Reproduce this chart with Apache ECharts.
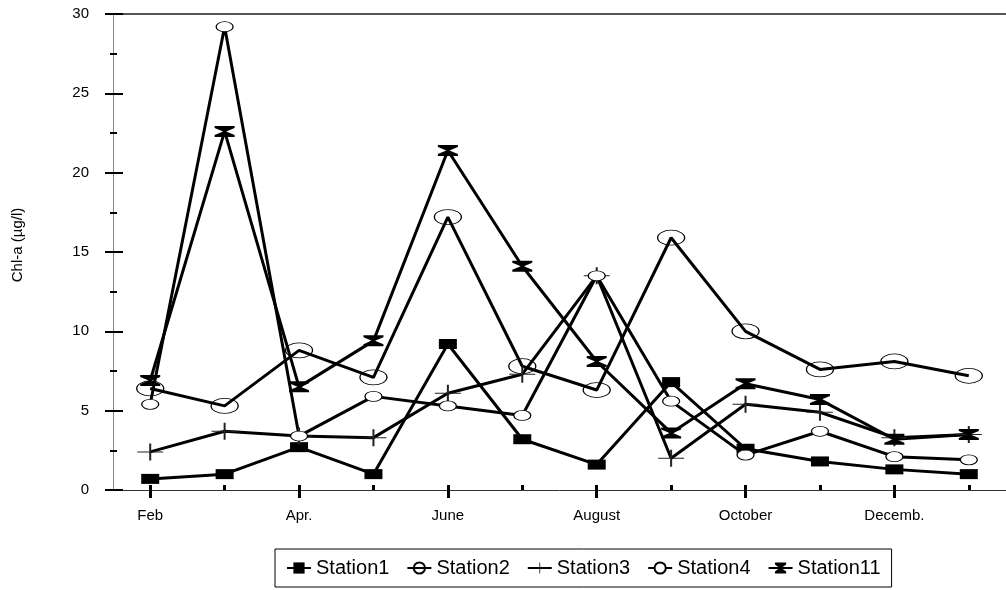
<!DOCTYPE html>
<html>
<head>
<meta charset="utf-8">
<script src="https://cdn.jsdelivr.net/npm/echarts@6/dist/echarts.min.js"></script>
<style>
  html, body { margin: 0; padding: 0; background: #fff; }
  #chart { width: 1006px; height: 590px; }
</style>
</head>
<body>
<div id="chart"></div>
<script>
// Monthly sampling, February to January; only every other month is labelled
const months = ['Feb', 'Mar', 'Apr.', 'May', 'June', 'July', 'August', 'Sep', 'October', 'Nov', 'Decemb.', 'Jan'];

// Chlorophyll-a concentrations (µg/l) per station
const station1  = [0.7, 1.0, 2.7, 1.0, 9.2, 3.2, 1.6, 6.8, 2.6, 1.8, 1.3, 1.0];
const station2  = [6.4, 5.3, 8.8, 7.1, 17.2, 7.8, 6.3, 15.9, 10.0, 7.6, 8.1, 7.2];
const station3  = [2.4, 3.7, 3.4, 3.3, 6.1, 7.3, 13.5, 2.0, 5.4, 4.9, 3.3, 3.5];
const station4  = [5.4, 29.2, 3.4, 5.9, 5.3, 4.7, 13.5, 5.6, 2.2, 3.7, 2.1, 1.9];
const station11 = [6.9, 22.6, 6.5, 9.4, 21.4, 14.1, 8.1, 3.6, 6.7, 5.7, 3.2, 3.5];

// Value axis range and step
const yMin = 0, yMax = 30, yStep = 5;

const FONT = 'Liberation Sans, Arial, sans-serif';

// Marker shapes
const plusPath = 'path://M0,8 H26 V9 H0 Z M12,0 H14 V17 H12 Z';
const hourglassPath = 'path://M0,0 H20 V2 L11.5,5.5 L20,9 V11 H0 V9 L8.5,5.5 L0,2 Z';

const chart = echarts.init(document.getElementById('chart'), null, { renderer: 'canvas' });

function lineSeries(name, data, symbol, size, fill, border) {
  return {
    name: name,
    type: 'line',
    data: data,
    xAxisIndex: 0,
    yAxisIndex: 0,
    symbol: symbol,
    symbolSize: size,
    showAllSymbol: true,
    lineStyle: { color: '#000', width: 3 },
    itemStyle: { color: fill, borderColor: '#000', borderWidth: border },
    emphasis: { disabled: true },
    z: 3
  };
}

const option = {
  animation: false,
  backgroundColor: '#fff',
  grid: { left: 113, top: 14, width: 897, height: 476 },
  legend: {
    left: 275,
    top: 549,
    orient: 'horizontal',
    borderColor: '#000',
    borderWidth: 1,
    padding: [9, 11, 9, 11],
    itemGap: 17,
    itemWidth: 24,
    itemHeight: 14,
    textStyle: { fontFamily: FONT, fontSize: 20, color: '#000' },
    selectedMode: false,
    data: ['Station1', 'Station2', 'Station3', 'Station4', 'Station11']
  },
  xAxis: [
    {
      type: 'category',
      data: months,
      position: 'bottom',
      boundaryGap: true,
      axisLine: { show: true, lineStyle: { color: '#333', width: 1 } },
      axisTick: { show: true, alignWithLabel: true, length: 8, lineStyle: { color: '#000', width: 3 } },
      axisLabel: { interval: 1, margin: 18, fontFamily: FONT, fontSize: 15, color: '#000' },
      splitLine: { show: false }
    },
    {
      type: 'category',
      data: months,
      position: 'bottom',
      boundaryGap: true,
      axisLine: { show: false },
      axisTick: { show: true, inside: true, alignWithLabel: true, length: 5, lineStyle: { color: '#000', width: 3 } },
      axisLabel: { show: false },
      splitLine: { show: false }
    },
    {
      type: 'category',
      data: months,
      position: 'top',
      axisLine: { show: true, lineStyle: { color: '#555', width: 2 } },
      axisTick: { show: false },
      axisLabel: { show: false },
      splitLine: { show: false }
    }
  ],
  yAxis: [
    {
      type: 'value',
      position: 'left',
      min: yMin,
      max: yMax,
      interval: yStep,
      name: 'Chl-a (µg/l)',
      nameLocation: 'middle',
      nameGap: 88,
      nameTextStyle: { fontFamily: FONT, fontSize: 15, color: '#000', padding: [0, 0, 0, 14] },
      axisLine: { show: true, lineStyle: { color: '#888', width: 1 } },
      axisTick: { show: true, length: 8, lineStyle: { color: '#000', width: 2 } },
      minorTick: { show: true, splitNumber: 2, length: 3, lineStyle: { color: '#000', width: 2 } },
      axisLabel: { margin: 24, fontFamily: FONT, fontSize: 15, color: '#000' },
      splitLine: { show: false }
    },
    {
      type: 'value',
      position: 'left',
      min: yMin,
      max: yMax,
      interval: yStep,
      axisLine: { show: false },
      axisTick: { show: true, inside: true, length: 10, lineStyle: { color: '#000', width: 2 } },
      minorTick: { show: true, splitNumber: 2, length: 4, lineStyle: { color: '#000', width: 2 } },
      axisLabel: { show: false },
      splitLine: { show: false }
    }
  ],
  series: [
    lineSeries('Station1', station1, 'rect', [18, 10], '#000', 0),
    lineSeries('Station2', station2, 'circle', [27, 15], 'rgba(255,255,255,0)', 1),
    lineSeries('Station3', station3, plusPath, [26, 17], '#222', 0),
    lineSeries('Station4', station4, 'circle', [17, 10], '#fff', 1),
    lineSeries('Station11', station11, hourglassPath, [20, 11], '#000', 0)
  ]
};

chart.setOption(option);
</script>
</body>
</html>
